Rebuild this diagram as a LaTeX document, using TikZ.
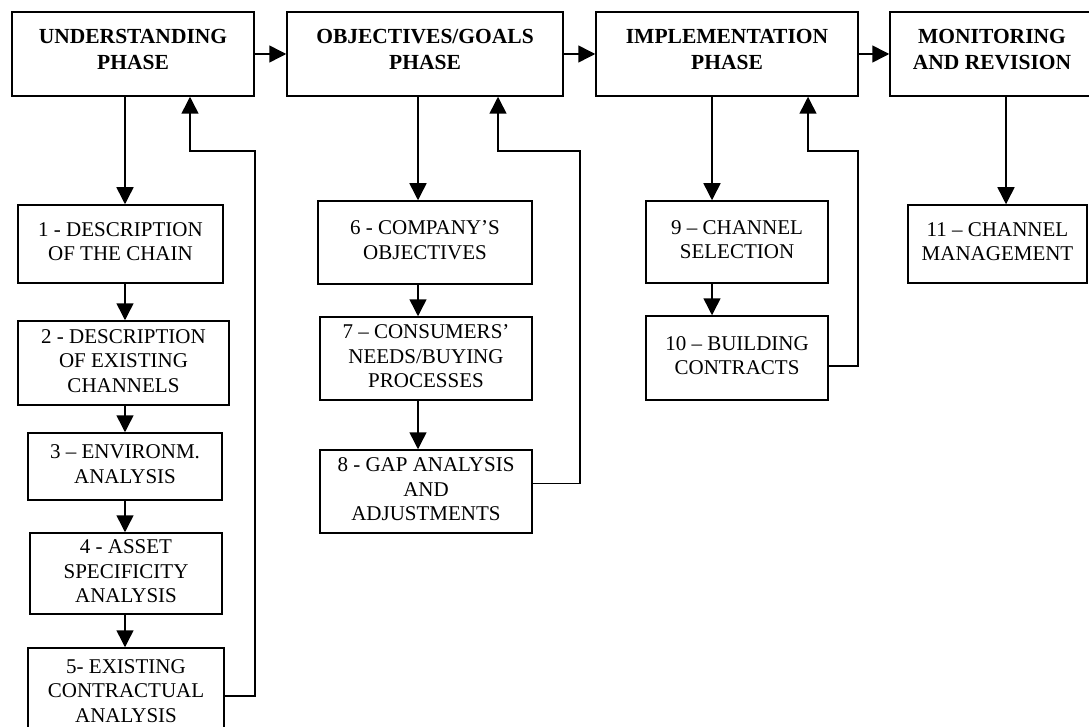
\documentclass[tikz,border=0pt]{standalone}
\usepackage{fontspec}
\setmainfont{Liberation Serif}
\usepackage{tikz}
\usetikzlibrary{arrows.meta,positioning,calc}
\newcommand{\boxtext}[1]{\smash{\raisebox{-5pt}{\begin{tabular}{@{}c@{}}#1\end{tabular}}}}
\newcommand{\phasetext}[1]{\smash{\raisebox{-2pt}{\begin{tabular}{@{}c@{}}#1\end{tabular}}}}
\tikzset{phase/.style={draw,line width=1.5pt,inner sep=0pt,font=\fontsize{21.5}{26}\selectfont\bfseries},
         task/.style={draw,line width=1.5pt,inner sep=0pt,font=\fontsize{21}{24.5}\selectfont}}
\begin{document}
\begin{tikzpicture}[->, >={Triangle[length=17pt,width=17pt]}, line width=1.5pt, x=1pt, y=-1pt]
        \useasboundingbox (0,0) rectangle (1089,727);
        % phases
        \node[phase,minimum width=242pt,minimum height=84pt] (und) at (133,54) {\phasetext{UNDERSTANDING\\PHASE}};
        \node[phase,minimum width=276pt,minimum height=84pt] (obj) at (425,54) {\phasetext{OBJECTIVES/GOALS\\PHASE}};
        \node[phase,minimum width=262pt,minimum height=84pt] (imp) at (727,54) {\phasetext{IMPLEMENTATION\\PHASE}};
        \node[phase,minimum width=204pt,minimum height=84pt] (mon) at (992,54) {\phasetext{MONITORING\\AND REVISION}};
        % understanding steps
        \node[task,minimum width=205pt,minimum height=78pt] (s1) at (120.5,244) {\boxtext{1 - DESCRIPTION\\OF THE CHAIN}};
        \node[task,minimum width=211pt,minimum height=84pt] (s2) at (123.5,363) {\boxtext{2 - DESCRIPTION\\OF EXISTING\\CHANNELS}};
        \node[task,minimum width=194pt,minimum height=67pt] (s3) at (125,466.5) {\boxtext{3 -- ENVIRONM.\\ANALYSIS}};
        \node[task,minimum width=192pt,minimum height=81pt] (s4) at (126,573.5) {\boxtext{4 - ASSET\\SPECIFICITY\\ANALYSIS}};
        \node[task,minimum width=196pt,minimum height=90pt] (s5) at (126,693) {\boxtext{5- EXISTING\\CONTRACTUAL\\ANALYSIS}};
        % objectives steps
        \node[task,minimum width=214pt,minimum height=83pt] (s6) at (425,242.5) {\boxtext{6 - COMPANY'S\\OBJECTIVES}};
        \node[task,minimum width=212pt,minimum height=83pt] (s7) at (426,358.5) {\boxtext{7 -- CONSUMERS'\\NEEDS/BUYING\\PROCESSES}};
        \node[task,minimum width=212pt,minimum height=83pt] (s8) at (426,491.5) {\boxtext{8 - GAP ANALYSIS\\AND\\ADJUSTMENTS}};
        % implementation steps
        \node[task,minimum width=182pt,minimum height=82pt] (s9) at (737,242) {\boxtext{9 -- CHANNEL\\SELECTION}};
        \node[task,minimum width=182pt,minimum height=84pt] (s10) at (737,358) {\boxtext{10 -- BUILDING\\CONTRACTS}};
        % monitoring step
        \node[task,minimum width=179pt,minimum height=78pt] (s11) at (997.5,244) {\boxtext{11 -- CHANNEL\\MANAGEMENT}};
        % columns of the arrows
        \coordinate (ucol) at (125,0);
        \coordinate (ocol) at (418,0);
        \coordinate (icol) at (712,0);
        \coordinate (mcol) at (1006,0);
        \coordinate (ubk) at (190,0);
        \coordinate (obk) at (498,0);
        \coordinate (ibk) at (808,0);
        \coordinate (uf) at (255,151);
        \coordinate (of) at (580,151);
        \coordinate (if) at (858,151);
        % phase to phase
        \draw (und) -- (obj);
        \draw (obj) -- (imp);
        \draw (imp) -- (mon);
        % phase to first step
        \draw (und.south -| ucol) -- (s1.north -| ucol);
        \draw (obj.south -| ocol) -- (s6.north -| ocol);
        \draw (imp.south -| icol) -- (s9.north -| icol);
        \draw (mon.south -| mcol) -- (s11.north -| mcol);
        % step to step
        \draw (s1.south -| ucol) -- (s2.north -| ucol);
        \draw (s2.south -| ucol) -- (s3.north -| ucol);
        \draw (s3.south -| ucol) -- (s4.north -| ucol);
        \draw (s4.south -| ucol) -- (s5.north -| ucol);
        \draw (s6.south -| ocol) -- (s7.north -| ocol);
        \draw (s7.south -| ocol) -- (s8.north -| ocol);
        \draw (s9.south -| icol) -- (s10.north -| icol);
        % feedback to the phases
        \draw ($(s5.east)+(0,3)$) -| (uf) -| (und.south -| ubk);
        \draw ($(s8.east)+(0,-8)$) -| (of) -| (obj.south -| obk);
        \draw ($(s10.east)+(0,8)$) -| (if) -| (imp.south -| ibk);
\end{tikzpicture}
\end{document}
